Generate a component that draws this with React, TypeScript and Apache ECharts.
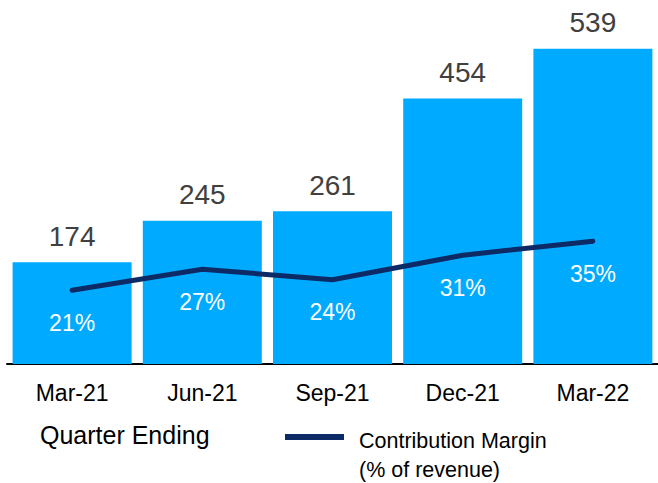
import React, { useEffect, useRef } from "react";
import * as echarts from "echarts";

const categories = ["Mar-21", "Jun-21", "Sep-21", "Dec-21", "Mar-22"];
const revenueValues = [174, 245, 261, 454, 539];
const marginPct = [21, 27, 24, 31, 35];
const axisTitle = "Quarter Ending";
const legendLine1 = "Contribution Margin";
const legendLine2 = "(% of revenue)";

const FONT = "'Liberation Sans', Arial, sans-serif";
const BAR_COLOR = "#00AAFF";
const LINE_COLOR = "#0C2A66";

export default function App() {
  const ref = useRef<HTMLDivElement>(null);
  useEffect(() => {
    document.body.style.margin = "0";
    if (!ref.current) return;
    const chart = echarts.init(ref.current, null, { renderer: "svg" });
    chart.setOption({
      animation: false,
      backgroundColor: "#ffffff",
      textStyle: { fontFamily: FONT },
      grid: { left: 7, right: -1, top: 13, bottom: 119, containLabel: false },
      xAxis: {
        type: "category",
        data: categories,
        axisLine: { show: true, lineStyle: { color: "#000000", width: 2 } },
        axisTick: { show: false },
        axisLabel: { color: "#000000", fontSize: 23, fontFamily: FONT, margin: 17 },
      },
      yAxis: [
        { type: "value", min: 0, max: 600, show: false, splitLine: { show: false } },
        { type: "value", min: 0, max: 100, show: false, splitLine: { show: false } },
      ],
      series: [
        {
          type: "bar",
          data: revenueValues,
          barWidth: 119,
          itemStyle: { color: BAR_COLOR },
          label: {
            show: true,
            position: "top",
            distance: 12,
            color: "#404040",
            fontSize: 28,
            fontFamily: FONT,
          },
        },
        {
          type: "line",
          yAxisIndex: 1,
          data: marginPct,
          symbol: "circle",
          symbolSize: 2,
          showSymbol: true,
          itemStyle: { color: "rgba(0,0,0,0)", borderWidth: 0 },
          lineStyle: { color: LINE_COLOR, width: 5, cap: "round", join: "round" },
          label: {
            show: true,
            position: "bottom",
            distance: 20,
            formatter: "{c}%",
            color: "#ffffff",
            opacity: 1,
            fontSize: 23,
            fontFamily: FONT,
          },
          labelLayout: { hideOverlap: false },
          z: 3,
        },
      ],
      graphic: [
        {
          type: "text",
          left: 40,
          top: 422,
          style: { text: axisTitle, fontSize: 25, fontFamily: FONT, fill: "#000000" },
        },
        {
          type: "line",
          shape: { x1: 285, y1: 437, x2: 344, y2: 437 },
          style: { stroke: LINE_COLOR, lineWidth: 6 },
        },
        {
          type: "text",
          left: 359,
          top: 430,
          style: { text: legendLine1, fontSize: 21.5, fontFamily: FONT, fill: "#000000" },
        },
        {
          type: "text",
          left: 359,
          top: 459,
          style: { text: legendLine2, fontSize: 21.5, fontFamily: FONT, fill: "#000000" },
        },
      ],
    });
    return () => chart.dispose();
  }, []);
  return (
    <div
      ref={ref}
      style={{ position: "fixed", left: 0, top: 0, width: 658, height: 483 }}
    />
  );
}
